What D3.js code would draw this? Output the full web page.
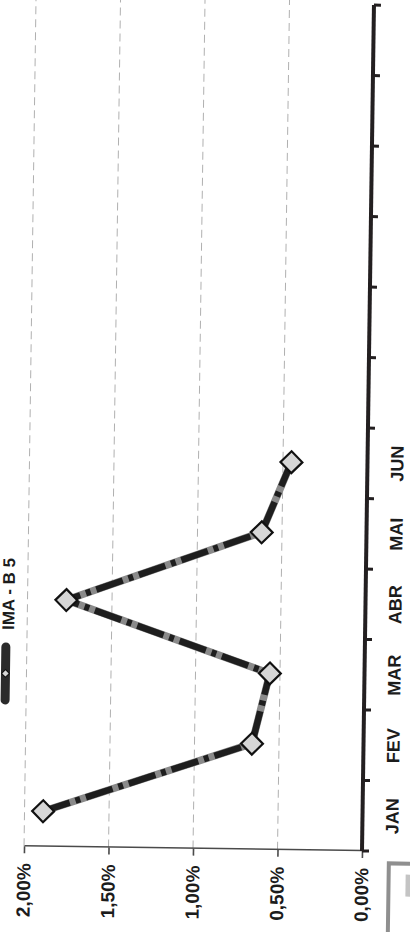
<!DOCTYPE html>
<html>
<head>
<meta charset="utf-8">
<script src="https://cdn.jsdelivr.net/npm/d3@7"></script>
<style>
  body { margin: 0; background: #fff; }
  svg { display: block; }
  text { font-family: "Liberation Sans", Arial, sans-serif; font-weight: bold; fill: #1c1c1c; }
</style>
</head>
<body>
<script>
// data (monthly return, %)
const months = ['JAN', 'FEV', 'MAR', 'ABR', 'MAI', 'JUN', 'JUL', 'AGO', 'SET', 'OUT', 'NOV', 'DEZ'];
const labelledMonths = ['JAN', 'FEV', 'MAR', 'ABR', 'MAI', 'JUN'];
const imaB5 = [1.89, 0.66, 0.56, 1.77, 0.62, 0.45];
const yTicks = [0, 0.5, 1, 1.5, 2];
const seriesName = 'IMA - B 5';

let width = 410;
let height = 932;
// the chart is drawn as a normal excel-like chart, then turned on its side (page is a rotated scan)
let plotW = 846;
let plotH = 338;

let svg = d3.select('body').append('svg')
   .attr('width', width)
   .attr('height', height);

let g = svg.append('g')
   .attr('transform', 'rotate(0.81,362,851) translate(24,851) rotate(-90)');

let xScale = d3.scaleBand().domain(months).range([0, plotW]).padding(0);
let yScale = d3.scaleLinear().domain([0, 2]).range([plotH, 0]);

let locale = d3.formatLocale({ decimal: ',', thousands: '.', grouping: [3], currency: ['R$', ''] });
let pct = (v) => locale.format('.2f')(v) + '%';

// gridlines
g.append('g').selectAll('line')
   .data(yTicks.filter(t => t > 0))
   .enter()
   .append('line')
   .attr('x1', 0)
   .attr('x2', plotW + 20)
   .attr('y1', d => yScale(d))
   .attr('y2', d => yScale(d))
   .attr('stroke', '#b0b0b0')
   .attr('stroke-width', 1)
   .attr('stroke-dasharray', '8,5');

// value axis
let yAxis = d3.axisLeft(yScale)
   .tickValues(yTicks)
   .tickSize(7)
   .tickSizeOuter(0)
   .tickPadding(10)
   .tickFormat(pct);
let yAxisG = g.append('g').call(yAxis);
yAxisG.select('.domain').attr('stroke', '#4a4a4a').attr('stroke-width', 1.6);
yAxisG.selectAll('.tick line').attr('stroke', '#4a4a4a').attr('stroke-width', 1.6);
yAxisG.selectAll('text')
   .style('font-size', '19px')
   .attr('fill', '#1c1c1c');

// category axis (labels centred, ticks between categories)
let xAxis = d3.axisBottom(xScale)
   .tickSize(0)
   .tickFormat(d => labelledMonths.includes(d) ? d : '');
let xAxisG = g.append('g')
   .attr('transform', 'translate(0,' + plotH + ')')
   .call(xAxis);
xAxisG.select('.domain').remove();
xAxisG.selectAll('text')
   .attr('y', 36)
   .attr('dy', 0)
   .style('font-size', '18px')
   .attr('fill', '#1c1c1c');

let bounds = months.map(m => xScale(m)).concat([xScale.range()[1]]);
xAxisG.selectAll('.bound')
   .data(bounds)
   .enter()
   .append('line')
   .attr('class', 'bound')
   .attr('x1', d => d)
   .attr('x2', d => d)
   .attr('y1', 0)
   .attr('y2', 7)
   .attr('stroke', '#231f20')
   .attr('stroke-width', 3);
xAxisG.append('line')
   .attr('x1', xScale.range()[0])
   .attr('x2', xScale.range()[1])
   .attr('y1', 0)
   .attr('y2', 0)
   .attr('stroke', '#231f20')
   .attr('stroke-width', 4);

// series
let points = imaB5.map((v, i) => ({ m: months[i], v: v }));
let line = d3.line()
   .x(d => xScale(d.m) + xScale.bandwidth() / 2)
   .y(d => yScale(d.v));

g.append('path')
   .datum(points)
   .attr('d', line)
   .attr('fill', 'none')
   .attr('stroke', '#8a8a8a')
   .attr('stroke-width', 7.5)
   .attr('stroke-linejoin', 'round');
g.append('path')
   .datum(points)
   .attr('d', line)
   .attr('fill', 'none')
   .attr('stroke', '#1e1e1e')
   .attr('stroke-width', 6.5)
   .attr('stroke-dasharray', '28,6,5,6')
   .attr('stroke-linejoin', 'round');

let diamond = d3.symbol().type(d3.symbolSquare).size(240);
g.selectAll('.marker')
   .data(points)
   .enter()
   .append('path')
   .attr('class', 'marker')
   .attr('d', diamond)
   .attr('transform', d => 'translate(' + (xScale(d.m) + xScale.bandwidth() / 2) + ',' + yScale(d.v) + ') rotate(45)')
   .attr('fill', '#d6d6d6')
   .attr('stroke', '#111')
   .attr('stroke-width', 2.2);

// legend (sits on the page edge)
let legend = g.append('g');
legend.append('line')
   .attr('x1', 146)
   .attr('x2', 199)
   .attr('y1', -21)
   .attr('y2', -21)
   .attr('stroke', '#2b2b2b')
   .attr('stroke-width', 9)
   .attr('stroke-linecap', 'round');
legend.append('path')
   .attr('d', d3.symbol().type(d3.symbolSquare).size(30))
   .attr('transform', 'translate(172.5,-21) rotate(45)')
   .attr('fill', '#d6d6d6')
   .attr('stroke', '#111')
   .attr('stroke-width', 1);
legend.append('text')
   .attr('x', 216)
   .attr('y', -13)
   .style('font-size', '17px')
   .text(seriesName);

// edge of the next box on the sheet
let box = g.append('g');
box.append('rect')
   .attr('x', -130)
   .attr('y', 365)
   .attr('width', 118)
   .attr('height', 60)
   .attr('fill', 'none')
   .attr('stroke', '#8f8f8f')
   .attr('stroke-width', 4);
box.append('rect')
   .attr('x', -45)
   .attr('y', 382)
   .attr('width', 22)
   .attr('height', 12)
   .attr('fill', '#c4c4c4');
</script>
</body>
</html>
